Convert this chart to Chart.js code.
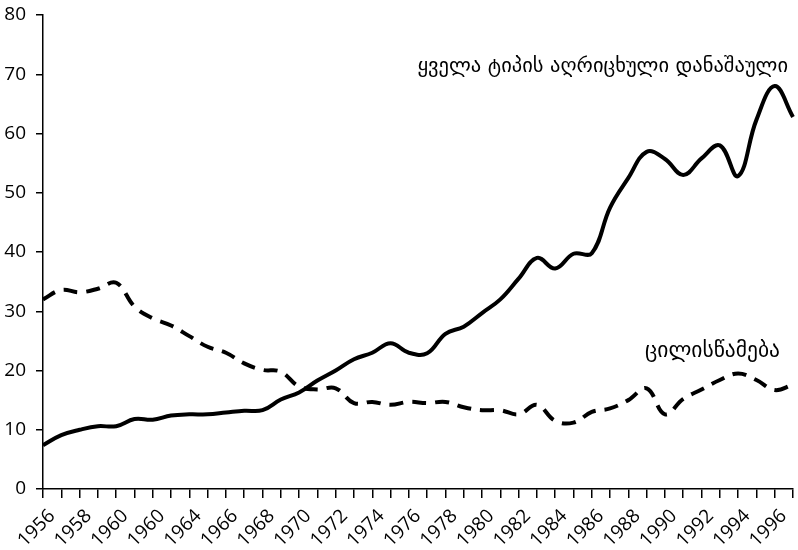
<!DOCTYPE html>
<html>
<head>
<meta charset="utf-8">
<script src="https://cdn.jsdelivr.net/npm/chart.js@4.4.1/dist/chart.umd.min.js"></script>
<style>
  html, body { margin: 0; padding: 0; background: #fff; }
  #wrap { width: 798px; height: 550px; }
</style>
</head>
<body>
<div id="wrap"><canvas id="crimeChart"></canvas></div>
<script>
// ---- data ----
const years = ['1956','1957','1958','1959','1960','1961','1962','1963','1964','1965',
  '1966','1967','1968','1969','1970','1971','1972','1973','1974','1975',
  '1976','1977','1978','1979','1980','1981','1982','1983','1984','1985',
  '1986','1987','1988','1989','1990','1991','1992','1993','1994','1995',
  '1996','1997'];

// every other year gets a label (the source prints 1960 twice)
const tickLabels = ['1956','1958','1960','1960','1964','1966','1968','1970','1972','1974',
  '1976','1978','1980','1982','1984','1986','1988','1990','1992','1994','1996'];

const allCrime = [7.4, 9.1, 10.0, 10.6, 10.6, 11.8, 11.7, 12.4, 12.6, 12.6,
  12.9, 13.2, 13.3, 15.1, 16.3, 18.3, 20.0, 21.9, 23.0, 24.6,
  23.0, 22.9, 26.2, 27.4, 29.7, 32.0, 35.5, 39.0, 37.2, 39.7,
  39.8, 47.5, 52.5, 56.9, 55.7, 53.0, 55.8, 58.0, 52.8, 62.3,
  68.0, 62.8];

const defamation = [32.0, 33.6, 33.2, 33.8, 34.8, 30.8, 28.8, 27.6, 25.8, 24.0,
  23.0, 21.2, 20.1, 19.8, 17.3, 16.8, 17.0, 14.5, 14.7, 14.2,
  14.7, 14.5, 14.7, 13.8, 13.3, 13.3, 12.6, 14.2, 11.5, 11.2,
  13.0, 13.6, 15.0, 17.0, 12.6, 15.2, 16.8, 18.4, 19.5, 18.4,
  16.7, 17.6];

const seriesNames = ['ყველა ტიპის აღრიცხული დანაშაული', 'ცილისწამება'];

// where the in-plot labels sit, in axis units (category index, value)
const labelSpots = [
  { index: 30.6, value: 71.2, size: 20.5 },
  { index: 36.6, value: 23.2, size: 21.5 }
];

// ---- in-plot series labels ----
const seriesLabelPlugin = {
  id: 'seriesLabels',
  afterDatasetsDraw(chart) {
    const { ctx, scales } = chart;
    ctx.save();
    ctx.fillStyle = '#000';
    ctx.textAlign = 'center';
    ctx.textBaseline = 'middle';
    labelSpots.forEach((spot, i) => {
      ctx.font = spot.size + 'px "DejaVu Sans", sans-serif';
      ctx.fillText(seriesNames[i], scales.x.getPixelForValue(spot.index), scales.y.getPixelForValue(spot.value));
    });
    ctx.restore();
  }
};

const tickFont = { family: '"Open Sans", sans-serif', size: 19 };

new Chart(document.getElementById('crimeChart'), {
  type: 'line',
  data: {
    labels: years,
    datasets: [
      {
        label: seriesNames[0],
        data: allCrime,
        borderColor: '#000',
        borderWidth: 4,
        pointRadius: 0,
        tension: 0.4,
        fill: false
      },
      {
        label: seriesNames[1],
        data: defamation,
        borderColor: '#000',
        borderWidth: 4,
        borderDash: [14, 9],
        pointRadius: 0,
        tension: 0.4,
        fill: false
      }
    ]
  },
  options: {
    responsive: true,
    maintainAspectRatio: false,
    animation: false,
    layout: { padding: { top: 15, right: 5, left: 0, bottom: 0 } },
    plugins: {
      legend: { display: false },
      tooltip: { enabled: false }
    },
    scales: {
      x: {
        offset: false,
        grid: { display: true, drawOnChartArea: false, drawTicks: true, tickLength: 9, color: '#000', lineWidth: 1.5 },
        border: { display: true, color: '#000', width: 1.5 },
        ticks: {
          color: '#000',
          font: tickFont,
          autoSkip: false,
          maxRotation: 45,
          minRotation: 45,
          padding: 7,
          labelOffset: 9,
          callback: (val, i) => (i % 2 === 0 ? tickLabels[i / 2] : '')
        },
        afterFit: (scale) => {
          scale.height = 61;
          scale.paddingLeft = 0;
          scale.paddingRight = 0;
        }
      },
      y: {
        min: 0,
        max: 80,
        grid: { display: true, drawOnChartArea: false, drawTicks: true, tickLength: 7, color: '#000', lineWidth: 1.5 },
        border: { display: true, color: '#000', width: 1.5 },
        ticks: { stepSize: 10, color: '#000', font: tickFont, padding: 10 },
        afterFit: (scale) => {
          scale.width = 43;
          scale.paddingTop = 0;
          scale.paddingBottom = 0;
        }
      }
    }
  },
  plugins: [seriesLabelPlugin]
});
</script>
</body>
</html>
